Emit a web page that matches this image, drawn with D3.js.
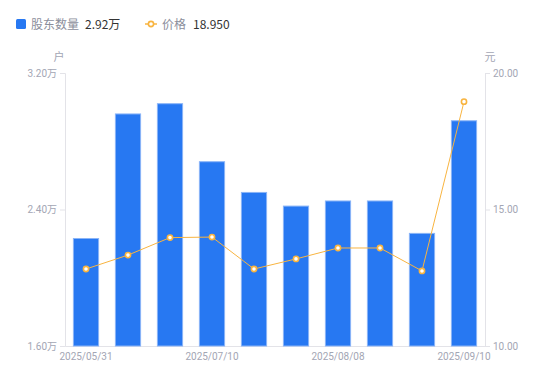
<!DOCTYPE html>
<html>
<head>
<meta charset="utf-8">
<script src="https://cdn.jsdelivr.net/npm/d3@7"></script>
<style>
  body { margin: 0; background: #fff; }
  text { font-family: "Noto Sans CJK SC", "Noto Sans", sans-serif; }
</style>
</head>
<body>
<div id="chart"></div>
<script>
// data
var dates = ["2025/05/31", "2025/06/10", "2025/06/20", "2025/07/10", "2025/07/20",
             "2025/07/31", "2025/08/08", "2025/08/20", "2025/08/31", "2025/09/10"];
var holders = [2.23, 2.96, 3.02, 2.68, 2.50, 2.42, 2.45, 2.45, 2.26, 2.92]; // 万户
var prices = [12.82, 13.33, 13.97, 13.99, 12.82, 13.19, 13.59, 13.59, 12.75, 18.95];
var leftTicks = [1.6, 2.4, 3.2];
var rightTicks = [10, 15, 20];
var shownDates = ["2025/05/31", "2025/07/10", "2025/08/08", "2025/09/10"];

var svgWidth = 550, svgHeight = 381;
var margin = { top: 73, bottom: 35, left: 65, right: 65 };
var width = svgWidth - margin.left - margin.right;
var height = svgHeight - margin.top - margin.bottom;

var svg = d3.select("#chart").append("svg")
    .attr("width", svgWidth)
    .attr("height", svgHeight);

var chartGroup = svg.append("g")
    .attr("transform", `translate(${margin.left}, ${margin.top})`);

// scales
var x = d3.scaleBand().domain(dates).range([0, width]).paddingInner(0.4).paddingOuter(0.2);
var yLeft = d3.scaleLinear().domain([1.6, 3.2]).range([height, 0]);
var yRight = d3.scaleLinear().domain([10, 20]).range([height, 0]);

var grey = "#a3a6b4";
var axisColor = "#e3e3e8";

// left axis
var leftAxis = chartGroup.append("g")
    .call(d3.axisLeft(yLeft).tickValues(leftTicks).tickSize(5).tickPadding(3)
        .tickFormat(d => d.toFixed(2) + "万"));
// right axis
var rightAxis = chartGroup.append("g")
    .attr("transform", `translate(${width}, 0)`)
    .call(d3.axisRight(yRight).tickValues(rightTicks).tickSize(5).tickPadding(3)
        .tickFormat(d => d.toFixed(2)));
// bottom axis
var bottomAxis = chartGroup.append("g")
    .attr("transform", `translate(0, ${height})`)
    .call(d3.axisBottom(x).tickValues(shownDates).tickSize(0).tickPadding(7));

[leftAxis, rightAxis, bottomAxis].forEach(g => {
    g.select(".domain").attr("stroke", axisColor);
    g.selectAll(".tick line").attr("stroke", axisColor);
    g.selectAll(".tick text").attr("fill", grey).attr("font-size", 10)
        .style("font-family", "Roboto, 'Noto Sans CJK SC', sans-serif");
});

// bars
chartGroup.selectAll("rect.bar")
    .data(holders)
    .enter()
    .append("rect")
    .attr("class", "bar")
    .attr("x", (d, i) => x(dates[i]))
    .attr("y", d => yLeft(d))
    .attr("width", x.bandwidth())
    .attr("height", d => height - yLeft(d))
    .attr("fill", "#2778f2")
    .attr("stroke", "#8ab4f7")
    .attr("stroke-width", 1);

// price line
var line = d3.line()
    .x((d, i) => x(dates[i]) + x.bandwidth() / 2)
    .y(d => yRight(d));

chartGroup.append("path")
    .datum(prices)
    .attr("d", line)
    .attr("fill", "none")
    .attr("stroke", "#f8b440")
    .attr("stroke-width", 1);

chartGroup.selectAll("circle.pt")
    .data(prices)
    .enter()
    .append("circle")
    .attr("class", "pt")
    .attr("cx", (d, i) => x(dates[i]) + x.bandwidth() / 2)
    .attr("cy", d => yRight(d))
    .attr("r", 2.6)
    .attr("fill", "#fff")
    .attr("stroke", "#f8b440")
    .attr("stroke-width", 1.6);

// unit labels
svg.append("text").attr("x", 59).attr("y", 61).attr("text-anchor", "middle")
    .attr("fill", grey).attr("font-size", 11).text("户");
svg.append("text").attr("x", 490).attr("y", 61).attr("text-anchor", "middle")
    .attr("fill", grey).attr("font-size", 11).text("元");

// legend
var legend = svg.append("g");
legend.append("rect").attr("x", 16).attr("y", 19).attr("width", 10).attr("height", 10)
    .attr("rx", 1.5).attr("fill", "#2778f2");
legend.append("text").attr("x", 31).attr("y", 28.5).attr("font-size", 12)
    .attr("fill", "#8b8e9b").text("股东数量");
legend.append("text").attr("x", 85).attr("y", 28.5).attr("font-size", 12)
    .attr("fill", "#333").text(holders[holders.length - 1].toFixed(2) + "万");

legend.append("line").attr("x1", 145).attr("x2", 157).attr("y1", 24).attr("y2", 24)
    .attr("stroke", "#f8b440").attr("stroke-width", 1.5);
legend.append("circle").attr("cx", 151).attr("cy", 24).attr("r", 2.6)
    .attr("fill", "#fff").attr("stroke", "#f8b440").attr("stroke-width", 1.6);
legend.append("text").attr("x", 162).attr("y", 28.5).attr("font-size", 12)
    .attr("fill", "#8b8e9b").text("价格");
legend.append("text").attr("x", 193).attr("y", 28.5).attr("font-size", 12)
    .attr("fill", "#333").text(prices[prices.length - 1].toFixed(3));
</script>
</body>
</html>
